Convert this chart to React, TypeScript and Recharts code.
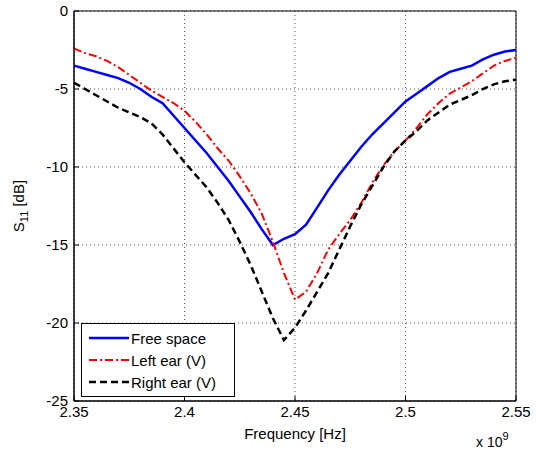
import React from "react";
import {
  LineChart,
  Line,
  XAxis,
  YAxis,
  CartesianGrid,
  ReferenceArea,
} from "recharts";

// frequency in units of 1e9 Hz
const freq = [
  2.35, 2.355, 2.36, 2.365, 2.37, 2.375, 2.38, 2.385, 2.39, 2.395,
  2.4, 2.405, 2.41, 2.415, 2.42, 2.425, 2.43, 2.435, 2.44, 2.445,
  2.45, 2.455, 2.46, 2.465, 2.47, 2.475, 2.48, 2.485, 2.49, 2.495,
  2.5, 2.505, 2.51, 2.515, 2.52, 2.525, 2.53, 2.535, 2.54, 2.545, 2.55,
];

const freeSpace = [
  -3.5, -3.7, -3.9, -4.1, -4.3, -4.6, -5.0, -5.5, -5.9, -6.7,
  -7.5, -8.3, -9.1, -10.0, -10.9, -11.9, -12.9, -14.0, -15.0, -14.6,
  -14.3, -13.7, -12.6, -11.5, -10.5, -9.6, -8.7, -7.9, -7.2, -6.5,
  -5.8, -5.3, -4.8, -4.3, -3.9, -3.7, -3.5, -3.1, -2.8, -2.6, -2.5,
];

const leftEar = [
  -2.4, -2.7, -2.9, -3.2, -3.6, -4.1, -4.6, -5.1, -5.5, -5.9,
  -6.4, -7.1, -7.9, -8.8, -9.6, -10.6, -11.7, -13.0, -14.8, -16.8,
  -18.5, -18.0, -16.8, -15.3, -14.3, -13.4, -12.3, -11.0, -9.9, -9.0,
  -8.3, -7.5, -6.6, -5.9, -5.3, -4.9, -4.5, -4.0, -3.5, -3.2, -3.0,
];

const rightEar = [
  -4.6, -5.0, -5.4, -5.8, -6.2, -6.5, -6.8, -7.2, -7.9, -8.8,
  -9.7, -10.5, -11.3, -12.3, -13.4, -14.8, -16.3, -18.0, -19.7, -21.1,
  -20.3, -19.2, -18.0, -16.8, -15.3, -13.8, -12.4, -11.2, -10.0, -9.0,
  -8.3, -7.7, -7.0, -6.5, -6.0, -5.7, -5.4, -5.0, -4.7, -4.5, -4.4,
];

const xTicks = [2.35, 2.4, 2.45, 2.5, 2.55];
const yTicks = [0, -5, -10, -15, -20, -25];

const FONT = "'Liberation Sans', Arial, sans-serif";

const series = [
  { key: "free", name: "Free space", color: "#0000ff", dash: undefined, width: 2.5 },
  { key: "left", name: "Left ear (V)", color: "#ff0000", dash: "8 3 2 3", width: 2 },
  { key: "right", name: "Right ear (V)", color: "#000000", dash: "7 4", width: 2.5 },
];

const data = freq.map((f, i) => ({
  f,
  free: freeSpace[i],
  left: leftEar[i],
  right: rightEar[i],
}));

function LegendBox() {
  return (
    <div
      style={{
        position: "absolute",
        left: 81,
        top: 323,
        border: "1px solid #000",
        background: "#fff",
        width: 154,
        padding: "3px 0 3px 6px",
        fontFamily: FONT,
        fontSize: 15,
        boxSizing: "border-box",
      }}
    >
      {series.map((s) => (
        <div key={s.key} style={{ display: "flex", alignItems: "center", height: 22 }}>
          <svg width={42} height={10}>
            <line
              x1={1}
              y1={5}
              x2={41}
              y2={5}
              stroke={s.color}
              strokeWidth={s.width}
              strokeDasharray={s.dash}
            />
          </svg>
          <span style={{ marginLeft: 1 }}>{s.name}</span>
        </div>
      ))}
    </div>
  );
}

function XLabel(props: any) {
  const { x, y, width } = props.viewBox;
  return (
    <g fontFamily={FONT} style={{ fill: "#000" }}>
      <text x={x + width / 2} y={y + 38} textAnchor="middle" fontSize={15} style={{ fill: "#000" }}>
        Frequency [Hz]
      </text>
      <text x={x + width - 40} y={y + 46} fontSize={14} style={{ fill: "#000" }}>
        x 10
        <tspan dy={-7} fontSize={11}>
          9
        </tspan>
      </text>
    </g>
  );
}

function YLabel(props: any) {
  const { y, height } = props.viewBox;
  const cx = 24;
  const cy = y + height / 2;
  return (
    <text
      x={cx}
      y={cy}
      transform={`rotate(-90 ${cx} ${cy})`}
      textAnchor="middle"
      fontFamily={FONT}
      fontSize={15}
      style={{ fill: "#000" }}
    >
      S
      <tspan dy={4} fontSize={11}>
        11
      </tspan>
      <tspan dy={-4}> [dB]</tspan>
    </text>
  );
}

export default function App() {
  return (
    <div style={{ position: "absolute", left: 0, top: 0, width: 542, height: 449, background: "#fff" }}>
      <LineChart
        width={542}
        height={449}
        data={data}
        margin={{ top: 11, right: 26, left: 0, bottom: 0 }}
      >
        <CartesianGrid stroke="#555" strokeDasharray="1 3" />
        <XAxis
          dataKey="f"
          type="number"
          domain={[2.35, 2.55]}
          ticks={xTicks}
          tickFormatter={(v) => String(v)}
          height={48}
          stroke="#000"
          tickSize={-5}
          tickMargin={10}
          tick={{ fill: "#000", fontSize: 15, fontFamily: FONT }}
          label={<XLabel />}
        />
        <YAxis
          type="number"
          domain={[-25, 0]}
          ticks={yTicks}
          width={74}
          stroke="#000"
          tickSize={-5}
          tickMargin={11}
          tick={{ fill: "#000", fontSize: 15, fontFamily: FONT }}
          label={<YLabel />}
        />
        <ReferenceArea x1={2.35} x2={2.55} y1={-25} y2={0} fill="none" stroke="#000" strokeWidth={1} />
        {series.map((s) => (
          <Line
            key={s.key}
            type="linear"
            dataKey={s.key}
            name={s.name}
            stroke={s.color}
            strokeWidth={s.width}
            strokeDasharray={s.dash}
            dot={false}
            isAnimationActive={false}
          />
        ))}
      </LineChart>
      <LegendBox />
    </div>
  );
}
